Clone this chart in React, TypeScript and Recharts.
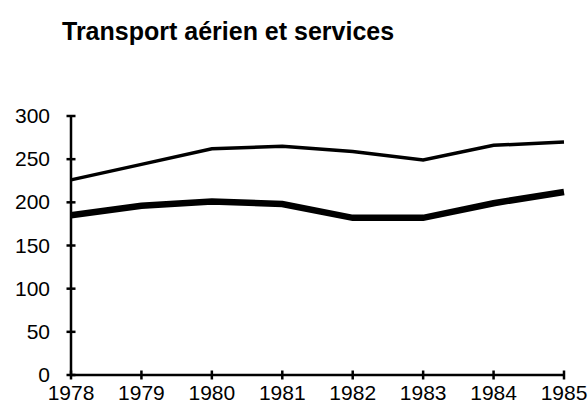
import React from "react";
import { LineChart, Line, XAxis, YAxis } from "recharts";

const title = "Transport aérien et services";
const years = ["1978", "1979", "1980", "1981", "1982", "1983", "1984", "1985"];
const upperSeries = [226, 244, 262, 265, 259, 249, 266, 270];
const lowerSeries = [185, 196, 201, 198, 182, 182, 199, 212];
const yTicks = [0, 50, 100, 150, 200, 250, 300];

const data = years.map((year, i) => ({
  year,
  upper: upperSeries[i],
  lower: lowerSeries[i],
}));

const FONT = "'Liberation Sans', Arial, Helvetica, sans-serif";
const Y_MARGIN = 21;
const X_MARGIN = 10;

const YTick = (props: any) => {
  const { x, y, payload } = props;
  const ax = x + Y_MARGIN;
  return (
    <g>
      <line x1={ax - 4.5} x2={ax + 4.5} y1={y} y2={y} stroke="#000" strokeWidth={2.5} />
      <text x={x} y={y} dy="0.34em" textAnchor="end" fontFamily={FONT} fontSize={21} fill="#000">
        {payload.value}
      </text>
    </g>
  );
};

const XTick = (props: any) => {
  const { x, y, payload } = props;
  const ay = y - X_MARGIN;
  return (
    <g>
      <line x1={x} x2={x} y1={ay - 4.5} y2={ay + 4.5} stroke="#000" strokeWidth={2.5} />
      <text x={x} y={y} dy="0.72em" textAnchor="middle" fontFamily={FONT} fontSize={21} fill="#000">
        {payload.value}
      </text>
    </g>
  );
};

export default function App() {
  return (
    <div style={{ position: "absolute", left: 0, top: 0, width: 588, height: 412, background: "#fff" }}>
      <div
        style={{
          position: "absolute",
          left: 62,
          top: 16,
          fontFamily: FONT,
          fontWeight: "bold",
          fontSize: 25,
          color: "#000",
          whiteSpace: "nowrap",
          lineHeight: "30px",
        }}
      >
        {title}
      </div>
      <LineChart width={588} height={412} data={data} margin={{ top: 116, right: 24, bottom: 0, left: 0 }}>
        <XAxis
          dataKey="year"
          height={37}
          tickSize={0}
          tickMargin={X_MARGIN}
          tick={<XTick />}
          axisLine={{ stroke: "#000", strokeWidth: 2.5 }}
          tickLine={false}
          interval={0}
        />
        <YAxis
          width={71}
          domain={[0, 300]}
          ticks={yTicks}
          tickSize={0}
          tickMargin={Y_MARGIN}
          tick={<YTick />}
          axisLine={{ stroke: "#000", strokeWidth: 2.5 }}
          tickLine={false}
          interval={0}
        />
        <Line
          type="linear"
          dataKey="upper"
          stroke="#000"
          strokeWidth={3.5}
          dot={false}
          isAnimationActive={false}
        />
        <Line
          type="linear"
          dataKey="lower"
          stroke="#000"
          strokeWidth={6.5}
          dot={false}
          isAnimationActive={false}
        />
      </LineChart>
    </div>
  );
}
